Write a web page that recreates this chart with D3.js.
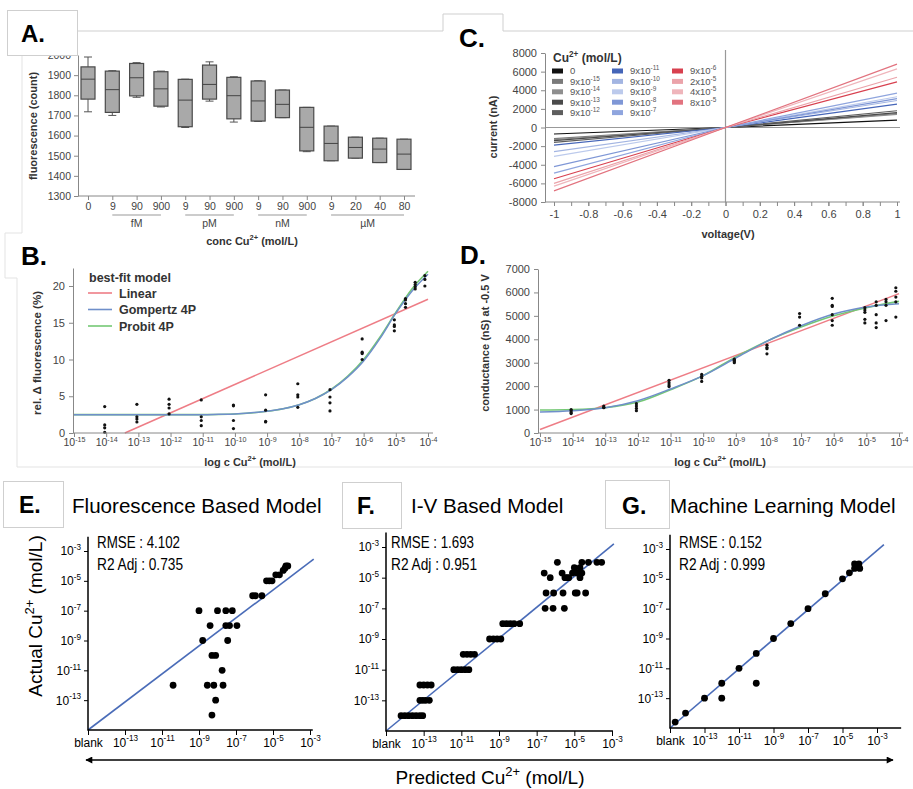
<!DOCTYPE html>
<html>
<head>
<meta charset="utf-8">
<script src="https://cdn.jsdelivr.net/npm/d3@7/dist/d3.min.js"></script>
<style>
  body { margin: 0; background: #fff; }
  svg { display: block; font-family: "Liberation Sans", Arial, Helvetica, sans-serif; }
</style>
</head>
<body>
<svg id="fig" width="913" height="789"></svg>
<script>
// ---------- A. fluorescence box plot
const concLabels = ["0", "9", "90", "900", "9", "90", "900", "9", "90", "900", "9", "20", "40", "80"];
const unitNames = ["fM", "pM", "nM", "µM"];
const unitFrom = [1, 4, 7, 10];
const unitTo = [3, 6, 9, 13];
const boxMin = [1718, 1700, 1790, 1742, 1640, 1771, 1667, 1670, 1689, 1520, 1475, 1488, 1466, 1432];
const boxQ1  = [1781, 1715, 1797, 1746, 1644, 1781, 1683, 1672, 1689, 1524, 1475, 1488, 1466, 1432];
const boxMed = [1880, 1828, 1887, 1832, 1776, 1854, 1798, 1772, 1755, 1641, 1561, 1541, 1533, 1508];
const boxQ3  = [1941, 1920, 1958, 1917, 1879, 1950, 1889, 1871, 1826, 1740, 1647, 1592, 1587, 1582];
const boxMax = [1990, 1922, 1962, 1920, 1880, 1966, 1892, 1872, 1826, 1740, 1647, 1592, 1587, 1582];
const fluoTicks = [1300, 1400, 1500, 1600, 1700, 1800, 1900, 2000];

// ---------- B. relative fluorescence vs concentration
const ptConc = [9e-15, 9e-14, 9e-13, 9e-12, 9e-11, 9e-10, 9e-9, 9e-8, 9e-7, 9e-6, 2e-5, 4e-5, 8e-5];
const fluoPts = [
  [3.6, 1.1, 0.7, 0.1], [3.9, 2.2, 1.9, 1.5], [4.6, 3.9, 3.4, 2.6], [4.5, 2.2, 1.7, 1.0],
  [3.8, 3.7, 1.7, 0.6], [5.2, 3.1, 1.6, 1.5], [6.7, 5.2, 4.9, 3.5], [5.9, 4.9, 4.1, 3.0],
  [12.8, 11.0, 10.8, 10.0], [15.4, 14.7, 14.5, 13.9], [18.3, 18.1, 17.6, 17.1],
  [20.5, 20.2, 19.9, 19.6], [21.4, 20.9, 20.0]
];
const fitLogB = [-15, -14, -13, -12, -11, -10.5, -10, -9.5, -9, -8.5, -8, -7.5, -7, -6.5, -6, -5.5, -5, -4.5, -4];
const gompB = [2.5, 2.5, 2.5, 2.5, 2.5, 2.55, 2.6, 2.75, 2.95, 3.3, 3.85, 4.7, 5.9, 7.6, 9.8, 12.8, 16.3, 19.3, 21.6];
const probB = [2.5, 2.5, 2.5, 2.5, 2.5, 2.52, 2.58, 2.72, 2.95, 3.3, 3.85, 4.7, 5.95, 7.7, 10.0, 13.0, 16.4, 19.6, 22.0];
const linLogB = [-13.42, -4];
const linB = [0, 18.2];
const fitNames = ["Linear", "Gompertz 4P", "Probit 4P"];
const logTicks = [-15, -14, -13, -12, -11, -10, -9, -8, -7, -6, -5, -4];

// ---------- C. I-V curves
const ivMant = ["0", "9", "9", "9", "9", "9", "9", "9", "9", "9", "9", "2", "4", "8"];
const ivExp = ["", "-15", "-14", "-13", "-12", "-11", "-10", "-9", "-8", "-7", "-6", "-5", "-5", "-5"];
const ivVolt = [-1, 0, 1];
const ivNeg = [-700, -1200, -1300, -1400, -1600, -1900, -2600, -3100, -4200, -4900, -5500, -6000, -6300, -6800];
const ivPos = [800, 1500, 1400, 1600, 1800, 2500, 2900, 3300, 3100, 3700, 4900, 5400, 6300, 6800];
const ivPalette = ["#111111", "#7a7a7a", "#8e8e8e", "#4a4a4a", "#5e5e5e", "#4565b8", "#a3b5e2", "#bccaec", "#7f97d6", "#8fa5de",
                   "#d8404f", "#eba3aa", "#efb5bb", "#e2737f"];

// ---------- D. conductance vs concentration
const condPts = [
  [1000, 950, 880, 830], [1150, 1100, 1080], [1250, 1150, 1050, 950], [2250, 2150, 2050, 1980],
  [2500, 2420, 2350, 2200], [3150, 3100, 3050, 3000], [3750, 3650, 3600, 3380], [5100, 4950, 4600],
  [5750, 5450, 5400, 5050, 4800, 4600], [5350, 5250, 5150, 4850, 4700], [5600, 5450, 5050, 4700, 4500],
  [5700, 5600, 5450, 4800], [6200, 6050, 5800, 5600, 4950]
];
const fitLogD = [-15, -14, -13, -12, -11, -10, -9, -8, -7, -6, -5, -4];
const gompD = [900, 950, 1080, 1380, 1880, 2450, 3200, 3950, 4580, 5080, 5380, 5520];
const probD = [980, 1000, 1080, 1320, 1850, 2450, 3250, 3950, 4520, 5000, 5350, 5620];
const linLogD = [-15, -4];
const linD = [150, 5950];

// ---------- E/F/G. predicted vs actual (log10 mol/L, -15 = blank)
const eX = [-10.4, -8.55, -8.2, -7.7, -8.3, -8.1, -7.75, -8.3, -8.1, -8.8, -7.45, -8.4, -7.55, -7.35, -6.95,
            -9.0, -8.0, -7.55, -7.2, -6.1, -5.95, -5.6, -5.35, -5.2, -5.05, -4.85, -4.65, -4.45, -4.3, -4.2, -4.35];
const eY = [-12, -12, -12, -12, -14, -13, -11, -10, -10, -9, -9, -8, -8, -8, -8,
            -7, -7, -7, -7, -6, -6, -6, -5, -5, -5, -4.6, -4.6, -4.3, -4, -4, -4.15];
const fRowY = [-14, -13, -12, -11, -10, -9, -8, -7, -6, -5, -4.7, -4.35, -4];
const fRowX = [
  [-14.2, -14.0, -13.8, -13.6, -13.4, -13.2, -13.05], [-13.2, -13.05, -12.9, -12.7], [-13.2, -13.0, -12.8, -12.6],
  [-11.4, -11.2, -11.0, -10.8, -10.6], [-10.9, -10.7, -10.5, -10.3], [-9.5, -9.3, -9.1, -8.9],
  [-8.8, -8.6, -8.4, -8.2, -7.9], [-6.55, -6.13, -5.53], [-6.5, -6.1, -5.6, -4.95, -4.85, -4.4],
  [-6.28, -5.5, -5.4, -5.3, -4.7], [-6.6, -5.65, -5.1, -4.85, -4.6], [-5.0, -4.7], [-5.9, -4.6, -4.25, -3.8, -3.55]
];
const gX = [-14.7, -14.1, -13, -12, -12, -11, -10, -10, -9, -8, -7, -6, -5, -4.6, -4.3, -4.05, -4.0, -4.3];
const gY = [-14.6, -14, -13, -13, -12, -11, -12, -10, -9, -8, -7, -6, -5, -4.6, -4, -4, -4.3, -4.3];
const eFitX = [-15, -2.8], eFitY = [-15, -3.55];
const fFitX = [-15, -2.9], fFitY = [-15, -2.8];
const gFitX = [-15, -2.6], gFitY = [-15, -2.7];
const parityTicks = [-15, -13, -11, -9, -7, -5, -3];

const svg = d3.select("#fig");
const frameCol = "#cfcfcf";

// text with superscripts: parts are strings, or [string] for a superscript
function rich(sel, parts, fs) {
  sel.text(null);
  let up = false;
  parts.forEach(p => {
    const sup = Array.isArray(p);
    const s = sel.append("tspan").text(sup ? p[0] : p);
    if (sup) {
      s.attr("font-size", fs * 0.68);
      if (!up) { s.attr("dy", -fs * 0.42); up = true; }
    } else if (up) {
      s.attr("dy", fs * 0.42); up = false;
    }
  });
}

function styleAxis(g, lineCol, textCol, fs) {
  g.attr("font-family", null).attr("font-size", fs);
  g.selectAll("line,path").attr("stroke", lineCol);
  g.selectAll("text").attr("fill", textCol);
}

// ---------- frames behind panels
const frames = svg.append("g").attr("fill", "none").attr("stroke", frameCol).attr("stroke-width", 1);
frames.append("path").attr("d", "M77,31H443V14H503V31H913");
frames.append("path").attr("d", "M22,55V233H5V278H17V467H913").attr("stroke", "#e3e3e3");

// ================= A =================
(() => {
  const x = d3.scalePoint().domain(d3.range(concLabels.length)).range([88, 404]);
  const y = d3.scaleLinear().domain([1300, 2000]).range([196, 55]);
  const g = svg.append("g");
  const bw = 14;
  const boxes = g.selectAll("g.box").data(d3.range(concLabels.length)).join("g");
  boxes.append("line").attr("x1", i => x(i)).attr("x2", i => x(i))
    .attr("y1", i => y(boxMin[i])).attr("y2", i => y(boxMax[i])).attr("stroke", "#555");
  boxes.append("line").attr("x1", i => x(i) - 4).attr("x2", i => x(i) + 4)
    .attr("y1", i => y(boxMax[i])).attr("y2", i => y(boxMax[i])).attr("stroke", "#555");
  boxes.append("line").attr("x1", i => x(i) - 4).attr("x2", i => x(i) + 4)
    .attr("y1", i => y(boxMin[i])).attr("y2", i => y(boxMin[i])).attr("stroke", "#555");
  boxes.append("rect").attr("x", i => x(i) - bw / 2).attr("width", bw)
    .attr("y", i => y(boxQ3[i])).attr("height", i => y(boxQ1[i]) - y(boxQ3[i]))
    .attr("fill", "#a9a9a9").attr("stroke", "#4a4a4a").attr("stroke-width", 1.2);
  boxes.append("line").attr("x1", i => x(i) - bw / 2).attr("x2", i => x(i) + bw / 2)
    .attr("y1", i => y(boxMed[i])).attr("y2", i => y(boxMed[i])).attr("stroke", "#444");

  const ya = g.append("g").attr("transform", "translate(78,0)")
    .call(d3.axisLeft(y).tickValues(fluoTicks).tickSize(4).tickSizeOuter(0).tickPadding(3).tickFormat(d => String(d)));
  styleAxis(ya, "#888", "#444", 10.5);
  const xa = g.append("g").attr("transform", "translate(0,196)")
    .call(d3.axisBottom(x).tickSize(4).tickPadding(3).tickFormat(i => concLabels[i]));
  xa.select(".domain").remove();
  styleAxis(xa, "#888", "#444", 10.5);
  g.append("line").attr("x1", 78).attr("x2", 415).attr("y1", 196).attr("y2", 196).attr("stroke", "#888");

  unitNames.forEach((u, k) => {
    g.append("line").attr("x1", x(unitFrom[k])).attr("x2", x(unitTo[k])).attr("y1", 215).attr("y2", 215)
      .attr("stroke", "#999");
    g.append("text").attr("x", (x(unitFrom[k]) + x(unitTo[k])) / 2).attr("y", 227)
      .attr("text-anchor", "middle").attr("font-size", 10.5).attr("fill", "#444").text(u);
  });
  rich(g.append("text").attr("x", 252).attr("y", 245).attr("text-anchor", "middle")
    .attr("font-size", 11).attr("font-weight", "bold").attr("fill", "#333"), ["conc Cu", ["2+"], " (mol/L)"], 11);
  g.append("text").attr("transform", "translate(37,126) rotate(-90)").attr("text-anchor", "middle")
    .attr("font-size", 11).attr("font-weight", "bold").attr("fill", "#333").text("fluorescence (count)");
})();

// ================= B =================
(() => {
  const x = d3.scaleLinear().domain([-15, -4]).range([74, 428]);
  const y = d3.scaleLinear().domain([0, 22.45]).range([433, 268]);
  const g = svg.append("g");
  const line = d3.line().x(d => x(d[0])).y(d => y(d[1])).curve(d3.curveMonotoneX);
  g.append("path").datum(d3.zip(linLogB, linB)).attr("d", line)
    .attr("fill", "none").attr("stroke", "#ee7d86").attr("stroke-width", 1.5);
  g.append("path").datum(d3.zip(fitLogB, probB)).attr("d", line)
    .attr("fill", "none").attr("stroke", "#74c874").attr("stroke-width", 1.6);
  g.append("path").datum(d3.zip(fitLogB, gompB)).attr("d", line)
    .attr("fill", "none").attr("stroke", "#6f8fca").attr("stroke-width", 1.5);
  const pts = ptConc.flatMap((c, i) => fluoPts[i].map(v => [Math.log10(c), v]));
  g.selectAll("circle").data(pts).join("circle")
    .attr("cx", d => x(d[0])).attr("cy", d => y(d[1])).attr("r", 1.6).attr("fill", "#111");

  const ya = g.append("g").attr("transform", "translate(73,0)")
    .call(d3.axisLeft(y).tickValues([0, 5, 10, 15, 20]).tickSize(4).tickSizeOuter(0).tickPadding(4));
  styleAxis(ya, "#888", "#444", 11);
  const xa = g.append("g").attr("transform", "translate(0,433)")
    .call(d3.axisBottom(x).tickValues(logTicks).tickSize(4).tickSizeOuter(0).tickPadding(2));
  xa.select(".domain").remove();
  styleAxis(xa, "#888", "#444", 10.5);
  xa.selectAll(".tick text").each(function (d) { rich(d3.select(this), ["10", [String(d)]], 10.5); });
  g.append("line").attr("x1", 73).attr("x2", 433).attr("y1", 433).attr("y2", 433).attr("stroke", "#888");

  rich(g.append("text").attr("x", 250).attr("y", 466).attr("text-anchor", "middle")
    .attr("font-size", 11).attr("font-weight", "bold").attr("fill", "#333"), ["log c Cu", ["2+"], " (mol/L)"], 11);
  g.append("text").attr("transform", "translate(41,353) rotate(-90)").attr("text-anchor", "middle")
    .attr("font-size", 11.5).attr("font-weight", "bold").attr("fill", "#333").text("rel. \u0394 fluorescence (%)");

  const lg = g.append("g").attr("font-size", 12.5).attr("font-weight", "bold").attr("fill", "#333");
  lg.append("text").attr("x", 89).attr("y", 282).text("best-fit model");
  const legCols = ["#ee7d86", "#6f8fca", "#74c874"];
  fitNames.forEach((n, k) => {
    const yy = 293 + k * 16.5;
    lg.append("line").attr("x1", 88).attr("x2", 112).attr("y1", yy).attr("y2", yy)
      .attr("stroke", legCols[k]).attr("stroke-width", 1.6);
    lg.append("text").attr("x", 119).attr("y", yy + 4.5).text(n);
  });
})();

// ================= C =================
(() => {
  const x = d3.scaleLinear().domain([-1, 1]).range([554, 897]);
  const y = d3.scaleLinear().domain([-8000, 8000]).range([202, 53]);
  const g = svg.append("g");
  g.append("line").attr("x1", x(0)).attr("x2", x(0)).attr("y1", 50).attr("y2", 202).attr("stroke", "#999").attr("stroke-width", 1.2);
  g.append("line").attr("x1", 545).attr("x2", 900).attr("y1", y(0)).attr("y2", y(0)).attr("stroke", "#999").attr("stroke-width", 1.2);
  const line = d3.line().x(d => x(d[0])).y(d => y(d[1]));
  ivMant.forEach((m, i) => {
    g.append("path").datum(d3.zip(ivVolt, [ivNeg[i], 0, ivPos[i]])).attr("d", line)
      .attr("fill", "none").attr("stroke", ivPalette[i]).attr("stroke-width", 1.2);
  });
  const ya = g.append("g").attr("transform", "translate(545,0)")
    .call(d3.axisLeft(y).tickValues(d3.range(-8000, 8001, 2000)).tickSize(4).tickSizeOuter(0).tickPadding(4).tickFormat(d => String(d)));
  styleAxis(ya, "#888", "#444", 11);
  const minor = g.append("g").attr("transform", "translate(0,202)")
    .call(d3.axisBottom(x).tickValues(d3.range(-10, 11).map(k => k / 10)).tickSize(4).tickFormat(""));
  minor.select(".domain").remove();
  styleAxis(minor, "#888", "#444", 11);
  const xa = g.append("g").attr("transform", "translate(0,202)")
    .call(d3.axisBottom(x).tickValues(d3.range(-5, 6).map(k => k / 5)).tickSize(4).tickPadding(4)
      .tickFormat(d => String(+d.toFixed(1))));
  xa.select(".domain").remove();
  styleAxis(xa, "#888", "#444", 11);
  g.append("line").attr("x1", 545).attr("x2", 900).attr("y1", 202).attr("y2", 202).attr("stroke", "#888");

  g.append("text").attr("x", 728).attr("y", 238).attr("text-anchor", "middle").attr("font-size", 11)
    .attr("font-weight", "bold").attr("fill", "#333").text("voltage(V)");
  g.append("text").attr("transform", "translate(497,127) rotate(-90)").attr("text-anchor", "middle")
    .attr("font-size", 11).attr("font-weight", "bold").attr("fill", "#333").text("current (nA)");

  const lg = g.append("g");
  rich(lg.append("text").attr("x", 553).attr("y", 62).attr("font-size", 12).attr("font-weight", "bold")
    .attr("fill", "#333"), ["Cu", ["2+"], " (mol/L)"], 12);
  const colX = [552, 612, 672];
  ivMant.forEach((m, i) => {
    const col = i < 5 ? 0 : i < 10 ? 1 : 2;
    const row = i < 5 ? i : i < 10 ? i - 5 : i - 10;
    const yy = 71 + row * 10.4;
    lg.append("rect").attr("x", colX[col]).attr("y", yy - 2.5).attr("width", 11).attr("height", 5).attr("fill", ivPalette[i]);
    const t = lg.append("text").attr("x", colX[col] + 18).attr("y", yy + 3.3).attr("font-size", 9.5).attr("fill", "#555");
    if (ivExp[i] === "") t.text(m);
    else rich(t, [m + "x10", [ivExp[i]]], 9.5);
  });
})();

// ================= D =================
(() => {
  const x = d3.scaleLinear().domain([-15, -4]).range([540, 899]);
  const y = d3.scaleLinear().domain([0, 7000]).range([433, 269]);
  const g = svg.append("g");
  const line = d3.line().x(d => x(d[0])).y(d => y(d[1])).curve(d3.curveMonotoneX);
  g.append("path").datum(d3.zip(linLogD, linD)).attr("d", line)
    .attr("fill", "none").attr("stroke", "#ee7d86").attr("stroke-width", 1.5);
  g.append("path").datum(d3.zip(fitLogD, probD)).attr("d", line)
    .attr("fill", "none").attr("stroke", "#74c874").attr("stroke-width", 1.6);
  g.append("path").datum(d3.zip(fitLogD, gompD)).attr("d", line)
    .attr("fill", "none").attr("stroke", "#6f8fca").attr("stroke-width", 1.5);
  const pts = ptConc.flatMap((c, i) => condPts[i].map(v => [Math.log10(c), v]));
  g.selectAll("circle").data(pts).join("circle")
    .attr("cx", d => x(d[0])).attr("cy", d => y(d[1])).attr("r", 1.6).attr("fill", "#111");

  const ya = g.append("g").attr("transform", "translate(538,0)")
    .call(d3.axisLeft(y).tickValues(d3.range(0, 7001, 1000)).tickSize(4).tickSizeOuter(0).tickPadding(4).tickFormat(d => String(d)));
  styleAxis(ya, "#888", "#444", 11);
  const xa = g.append("g").attr("transform", "translate(0,433)")
    .call(d3.axisBottom(x).tickValues(logTicks).tickSize(4).tickSizeOuter(0).tickPadding(2));
  xa.select(".domain").remove();
  styleAxis(xa, "#888", "#444", 10.5);
  xa.selectAll(".tick text").each(function (d) { rich(d3.select(this), ["10", [String(d)]], 10.5); });
  g.append("line").attr("x1", 538).attr("x2", 903).attr("y1", 433).attr("y2", 433).attr("stroke", "#888");

  rich(g.append("text").attr("x", 720).attr("y", 466).attr("text-anchor", "middle")
    .attr("font-size", 11).attr("font-weight", "bold").attr("fill", "#333"), ["log c Cu", ["2+"], " (mol/L)"], 11);
  g.append("text").attr("transform", "translate(489,343) rotate(-90)").attr("text-anchor", "middle")
    .attr("font-size", 11).attr("font-weight", "bold").attr("fill", "#333").text("conductance (nS) at -0.5 V");
})();

// ================= E / F / G =================
function parity(cfg) {
  const x = d3.scaleLinear().domain([-15, -3]).range([cfg.x0, cfg.x3]);
  const y = d3.scaleLinear().domain([-15, -3]).range([cfg.y0, cfg.y3]);
  const g = svg.append("g");
  g.append("path").datum(d3.zip(cfg.fitX, cfg.fitY))
    .attr("d", d3.line().x(d => x(d[0])).y(d => y(d[1])))
    .attr("fill", "none").attr("stroke", "#4a6cb8").attr("stroke-width", 1.6);
  g.selectAll("circle").data(d3.zip(cfg.px, cfg.py)).join("circle")
    .attr("cx", d => x(d[0])).attr("cy", d => y(d[1])).attr("r", 3.4).attr("fill", "#000");

  const xa = g.append("g").attr("transform", `translate(0,${cfg.y0})`)
    .call(d3.axisBottom(x).tickValues(parityTicks).tickSize(5).tickPadding(3));
  xa.select(".domain").remove();
  styleAxis(xa, "#000", "#000", 12);
  xa.selectAll(".tick text").each(function (d) {
    if (d === -15) d3.select(this).text("blank");
    else rich(d3.select(this), ["10", [String(d)]], 12);
  });
  const ya = g.append("g").attr("transform", `translate(${cfg.x0},0)`)
    .call(d3.axisLeft(y).tickValues(parityTicks.slice(1)).tickSize(4).tickPadding(3));
  ya.select(".domain").remove();
  styleAxis(ya, "#000", "#000", 12);
  ya.selectAll(".tick text").each(function (d) { rich(d3.select(this), ["10", [String(d)]], 12); });
  g.append("path").attr("d", `M${cfg.x0},${y(-2.05)}V${cfg.y0}H${x(cfg.xEnd)}`)
    .attr("fill", "none").attr("stroke", "#000").attr("stroke-width", 1.5);

  g.append("text").attr("x", cfg.tx).attr("y", 548).attr("font-size", 16).attr("textLength", cfg.w1)
    .attr("lengthAdjust", "spacingAndGlyphs").text(cfg.rmse);
  g.append("text").attr("x", cfg.tx).attr("y", 570).attr("font-size", 16).attr("textLength", cfg.w2)
    .attr("lengthAdjust", "spacingAndGlyphs").text(cfg.r2);
}

const fX = fRowX.flat();
const fY = fRowX.flatMap((r, k) => r.map(() => fRowY[k]));

parity({ x0: 88, x3: 310, y0: 730, y3: 551, xEnd: -2.85, px: eX, py: eY, fitX: eFitX, fitY: eFitY,
  tx: 97, rmse: "RMSE : 4.102", r2: "R2 Adj : 0.735", w1: 83, w2: 86 });
parity({ x0: 386, x3: 612, y0: 731, y3: 547, xEnd: -2.95, px: fX, py: fY, fitX: fFitX, fitY: fFitY,
  tx: 391, rmse: "RMSE : 1.693", r2: "R2 Adj : 0.951", w1: 83, w2: 86 });
parity({ x0: 670, x3: 877, y0: 728, y3: 549, xEnd: -1.6, px: gX, py: gY, fitX: gFitX, fitY: gFitY,
  tx: 679, rmse: "RMSE : 0.152", r2: "R2 Adj : 0.999", w1: 83, w2: 86 });

// shared axis titles
rich(svg.append("text").attr("transform", "translate(42,616) rotate(-90)").attr("text-anchor", "middle")
  .attr("font-size", 19).attr("fill", "#000"), ["Actual Cu", ["2+"], " (mol/L)"], 19);
rich(svg.append("text").attr("x", 490).attr("y", 784).attr("text-anchor", "middle")
  .attr("font-size", 19).attr("fill", "#000"), ["Predicted Cu", ["2+"], " (mol/L)"], 19);

const defs = svg.append("defs");
defs.append("marker").attr("id", "arr").attr("viewBox", "0 0 10 10").attr("refX", 9).attr("refY", 5)
  .attr("markerWidth", 9).attr("markerHeight", 7).attr("markerUnits", "userSpaceOnUse")
  .attr("orient", "auto-start-reverse")
  .append("path").attr("d", "M0,0L10,5L0,10z").attr("fill", "#000");
svg.append("line").attr("x1", 86).attr("x2", 893).attr("y1", 760).attr("y2", 760)
  .attr("stroke", "#000").attr("stroke-width", 1.4)
  .attr("marker-start", "url(#arr)").attr("marker-end", "url(#arr)");

// ---------- label boxes
const labelBoxes = [
  { t: "A.", x: 7, y: 10, w: 70, h: 45, tx: 21, ty: 42, fs: 24 },
  { t: "B.", x: 5, y: 233, w: 0, h: 0, tx: 21, ty: 265, fs: 26 },
  { t: "C.", x: 0, y: 0, w: 0, h: 0, tx: 459, ty: 47, fs: 26 },
  { t: "D.", x: 0, y: 0, w: 0, h: 0, tx: 460, ty: 264, fs: 26 },
  { t: "E.", x: 3, y: 481, w: 60, h: 46, tx: 19, ty: 513, fs: 23 },
  { t: "F.", x: 342, y: 482, w: 59, h: 46, tx: 357, ty: 514, fs: 23 },
  { t: "G.", x: 605, y: 480, w: 64, h: 48, tx: 622, ty: 514, fs: 23 }
];
labelBoxes.forEach(b => {
  if (b.w > 0) svg.append("rect").attr("x", b.x + 0.5).attr("y", b.y + 0.5).attr("width", b.w).attr("height", b.h)
    .attr("fill", "#fff").attr("stroke", frameCol);
  svg.append("text").attr("x", b.tx).attr("y", b.ty).attr("font-size", b.fs).attr("font-weight", "bold")
    .attr("fill", "#000").text(b.t);
});

const titles = [["Fluorescence Based Model", 72], ["I-V Based Model", 411], ["Machine Learning Model", 670]];
titles.forEach(([t, tx]) => {
  svg.append("text").attr("x", tx).attr("y", 513).attr("font-size", 20.6).attr("fill", "#000").text(t);
});
</script>
</body>
</html>
